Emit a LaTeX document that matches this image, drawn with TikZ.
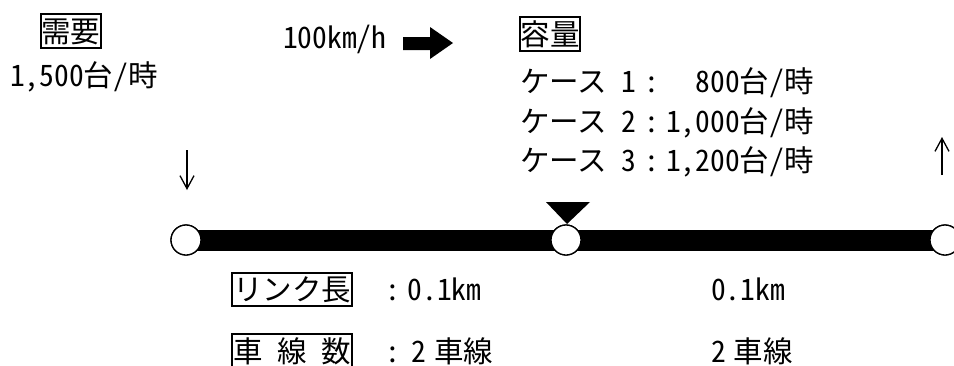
\documentclass[tikz,border=0pt]{standalone}
\usepackage{fontspec}
\setmainfont{Noto Sans CJK JP}[RawFeature=+hwid]
\usetikzlibrary{arrows.meta}
\newcommand{\fwcolon}{\makebox[1em][c]{:}}
\tikzset{
  txt/.style={inner sep=0pt, text height=26pt, text depth=3.5pt, font=\fontsize{29.5pt}{35pt}\selectfont},
  lblbox/.style={txt, draw, line width=2pt, inner xsep=0.8pt, inner ysep=2.2pt},
  road/.style={line width=21pt},
  junction/.style={circle, draw, fill=white, line width=1.3pt, minimum size=30pt, inner sep=0pt},
  flow/.style={line width=1.3pt, -{Straight Barb[length=13pt,width=14pt,line width=1.3pt]}},
  blockarrow/.style={fill=black},
}
\begin{document}
\begin{tikzpicture}[x=1pt,y=-1pt]
\useasboundingbox (0,0) rectangle (954,365);
% labels top-left
\node[lblbox] (demand) at (71,31) {需要};
\node[txt, anchor=west] (demandval) at (10,75) {1,500台/時};
% speed
\node[txt, anchor=west] (speed) at (283,37) {100km/h};
\fill[blockarrow] (403,37) -- (430,37) -- (430,27) -- (453,43) -- (430,59) -- (430,50) -- (403,50) -- cycle;
% capacity
\node[lblbox] (cap) at (550,34) {容量};
\node[txt, anchor=west] (case1) at (520,81) {ケース\hspace{0.5em}1\fwcolon\hspace{1em}800台/時};
\node[txt, anchor=west] (case2) at (520,121) {ケース\hspace{0.5em}2\fwcolon 1,000台/時};
\node[txt, anchor=west] (case3) at (520,160) {ケース\hspace{0.5em}3\fwcolon 1,200台/時};
% road
\node[junction] (n1) at (186,240) {};
\node[junction] (n2) at (566,240) {};
\node[junction] (n3) at (945,240) {};
\draw[road] (n1.center) -- (n3.center);
\node[junction] at (n1) {};
\node[junction] at (n2) {};
\node[junction] at (n3) {};
% bottleneck marker
\fill (546,202) -- (590,202) -- (567,224) -- cycle;
% flow arrows
\coordinate (inTop) at (187,150);
\coordinate (inBot) at (187,190);
\coordinate (outBot) at (942,175);
\coordinate (outTop) at (942,137);
\draw[flow] (inTop) -- (inBot);
\draw[flow] (outBot) -- (outTop);
% bottom labels
\node[lblbox] (len) at (292,289.5) {リンク長};
\node[txt, anchor=west] (len1) at (378,289.5) {\fwcolon 0.1km};
\node[txt, anchor=west] (len2) at (711,289.5) {0.1km};
\node[lblbox] (lanes) at (292,351) {車\hspace{0.5em}線\hspace{0.5em}数};
\node[txt, anchor=west] (lanes1) at (378,351) {\fwcolon\hspace{4pt}2\hspace{8pt}車線};
\node[txt, anchor=west] (lanes2) at (711,351) {2\hspace{8pt}車線};
\end{tikzpicture}
\end{document}
